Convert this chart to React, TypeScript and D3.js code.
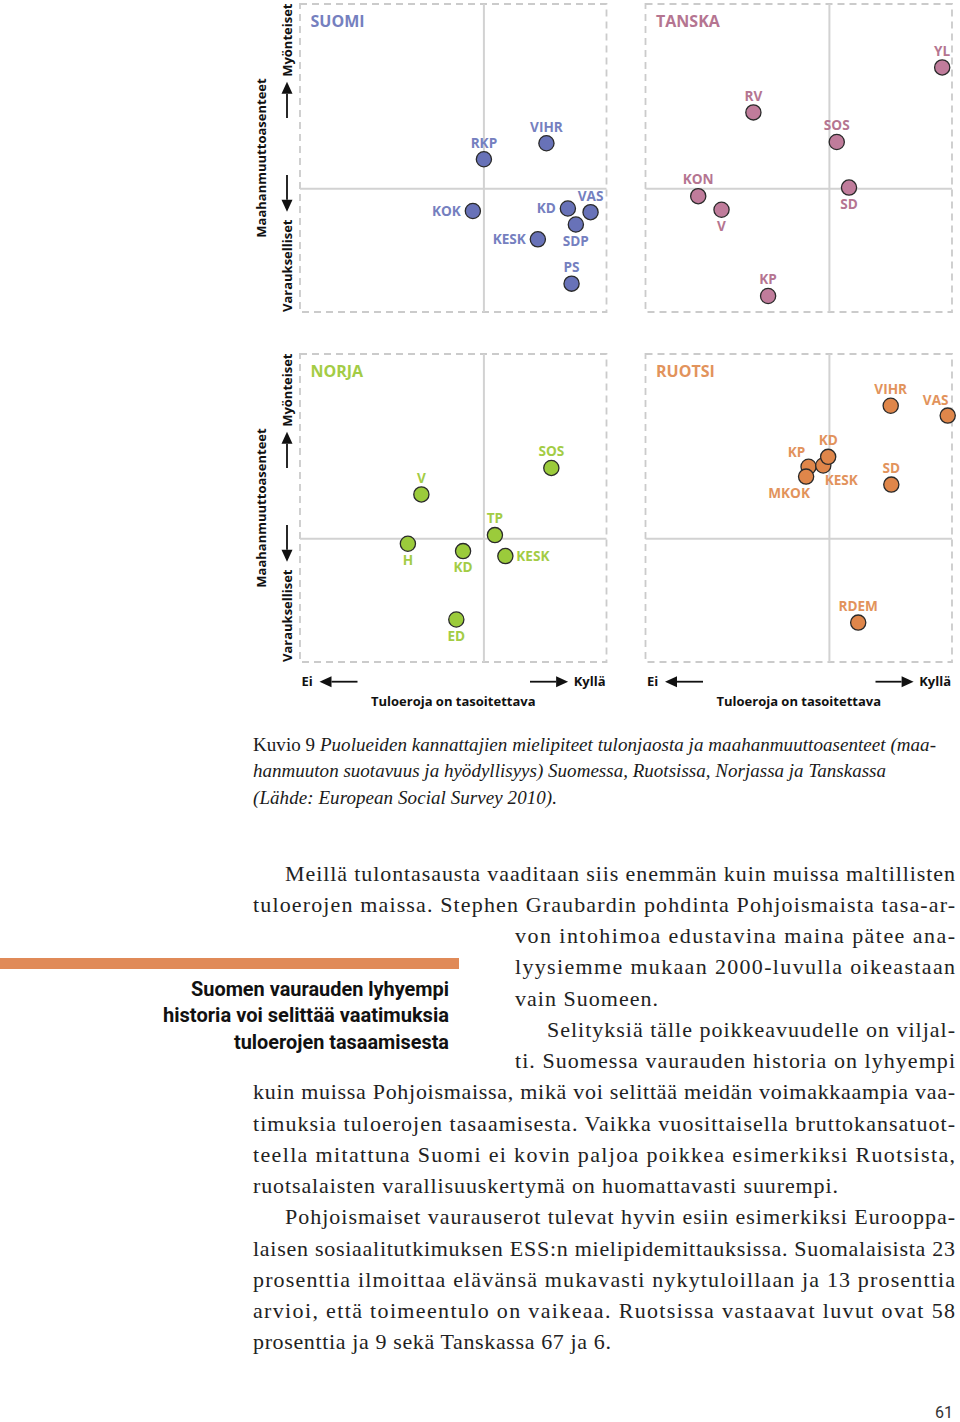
import React from 'react';
import * as d3 from 'd3';

// ---------------- data ----------------
// x: "Tuloeroja on tasoitettava" (Ei -> Kyllä), y: Maahanmuuttoasenteet (Varaukselliset -> Myönteiset)
const suomiParties = ['RKP', 'VIHR', 'KOK', 'KD', 'VAS', 'SDP', 'KESK', 'PS'];
const suomiIncome = [0.0, 1.02, -0.18, 1.37, 1.74, 1.5, 0.88, 1.43];
const suomiImmigration = [0.48, 0.74, -0.36, -0.32, -0.38, -0.58, -0.82, -1.54];
const suomiLabelSide = ['t', 't', 'l', 'l', 't', 'b', 'l', 't'];

const tanskaParties = ['YL', 'RV', 'SOS', 'KON', 'SD', 'V', 'KP'];
const tanskaIncome = [1.84, -1.24, 0.12, -2.14, 0.32, -1.76, -1.0];
const tanskaImmigration = [1.97, 1.24, 0.76, -0.12, 0.02, -0.34, -1.74];
const tanskaLabelSide = ['t', 't', 't', 't', 'b', 'b', 't'];

const norjaParties = ['SOS', 'V', 'TP', 'H', 'KD', 'KESK', 'ED'];
const norjaIncome = [1.1, -1.02, 0.18, -1.24, -0.34, 0.35, -0.45];
const norjaImmigration = [1.15, 0.72, 0.06, -0.08, -0.2, -0.28, -1.31];
const norjaLabelSide = ['t', 't', 't', 'b', 'b', 'r', 'b'];

const ruotsiParties = ['VIHR', 'VAS', 'KP', 'KESK', 'MKOK', 'KD', 'SD', 'RDEM'];
const ruotsiIncome = [1.0, 1.93, -0.34, -0.1, -0.38, -0.02, 1.01, 0.47];
const ruotsiImmigration = [2.16, 2.0, 1.17, 1.19, 1.01, 1.33, 0.88, -1.36];
const ruotsiLabelSide = ['t', 'tl', 'tl', 'br', 'bl', 't', 't', 't'];

const xDomain = [-3, 2];
const yDomain = [-2, 3];

const captionLines = [
  { lead: 'Kuvio 9  ', rest: 'Puolueiden kannattajien mielipiteet tulonjaosta ja maahanmuuttoasenteet (maa-' },
  { lead: '', rest: 'hanmuuton suotavuus ja hyödyllisyys) Suomessa, Ruotsissa, Norjassa ja Tanskassa' },
  { lead: '', rest: '(Lähde: European Social Survey 2010).' },
];
const captionEnd = [936, 886, 557];

const bodyLines = [
  'Meillä tulontasausta vaaditaan siis enemmän kuin muissa maltillisten',
  'tuloerojen maissa. Stephen Graubardin pohdinta Pohjoismaista tasa-ar-',
  'von intohimoa edustavina maina pätee ana-',
  'lyysiemme mukaan 2000-luvulla oikeastaan',
  'vain Suomeen.',
  'Selityksiä tälle poikkeavuudelle on viljal-',
  'ti. Suomessa vaurauden historia on lyhyempi',
  'kuin muissa Pohjoismaissa, mikä voi selittää meidän voimakkaampia vaa-',
  'timuksia tuloerojen tasaamisesta. Vaikka vuosittaisella bruttokansatuot-',
  'teella mitattuna Suomi ei kovin paljoa poikkea esimerkiksi Ruotsista,',
  'ruotsalaisten varallisuuskertymä on huomattavasti suurempi.',
  'Pohjoismaiset vaurauserot tulevat hyvin esiin esimerkiksi Eurooppa-',
  'laisen sosiaalitutkimuksen ESS:n mielipidemittauksissa. Suomalaisista 23',
  'prosenttia ilmoittaa elävänsä mukavasti nykytuloillaan ja 13 prosenttia',
  'arvioi, että toimeentulo on vaikeaa. Ruotsissa vastaavat luvut ovat 58',
  'prosenttia ja 9 sekä Tanskassa 67 ja 6.',
];
const bodyStart = [285, 253, 515, 515, 515, 547, 515, 253, 253, 253, 253, 285, 253, 253, 253, 253];
const bodyEnd = [955, 955, 955, 955, 658, 955, 955, 955, 955, 955, 838, 955, 955, 955, 955, 611];

const sidebarLines = ['Suomen vaurauden lyhyempi', 'historia voi selittää vaatimuksia', 'tuloerojen tasaamisesta'];
const sidebarStart = [191, 163, 234];

// ---------------- layout ----------------
const W = 306.5;
const H = 308;
const LABEL_FONT = "'Open Sans', 'DejaVu Sans', sans-serif";

type Panel = {
  name: string;
  parties: string[];
  xs: number[];
  ys: number[];
  side: string[];
  fill: string;
  text: string;
  left: number;
  top: number;
  yAxis: boolean;
  xAxis: boolean;
};

const panels: Panel[] = [
  { name: 'SUOMI', parties: suomiParties, xs: suomiIncome, ys: suomiImmigration, side: suomiLabelSide, fill: '#6872b8', text: '#7580bf', left: 300, top: 4, yAxis: true, xAxis: false },
  { name: 'TANSKA', parties: tanskaParties, xs: tanskaIncome, ys: tanskaImmigration, side: tanskaLabelSide, fill: '#c07c9b', text: '#b57591', left: 645.5, top: 4, yAxis: false, xAxis: false },
  { name: 'NORJA', parties: norjaParties, xs: norjaIncome, ys: norjaImmigration, side: norjaLabelSide, fill: '#9bcb3b', text: '#a3cc45', left: 300, top: 354, yAxis: true, xAxis: true },
  { name: 'RUOTSI', parties: ruotsiParties, xs: ruotsiIncome, ys: ruotsiImmigration, side: ruotsiLabelSide, fill: '#df864a', text: '#e2935c', left: 645.5, top: 354, yAxis: false, xAxis: true },
];

function labelPlacement(side: string, cx: number, cy: number) {
  const b = 4.8; // half cap height
  switch (side) {
    case 't': return { x: cx, y: cy - 16.5 + b, anchor: 'middle' };
    case 'b': return { x: cx, y: cy + 16.5 + b, anchor: 'middle' };
    case 'l': return { x: cx - 12, y: cy + b, anchor: 'end' };
    case 'r': return { x: cx + 11, y: cy + b, anchor: 'start' };
    case 'tl': return { x: cx - 12, y: cy - 15 + b, anchor: 'middle' };
    case 'bl': return { x: cx - 17, y: cy + 16.5 + b, anchor: 'middle' };
    case 'br': return { x: cx + 18, y: cy + 14.5 + b, anchor: 'middle' };
    default: return { x: cx, y: cy, anchor: 'middle' };
  }
}

function ArrowV({ x, y1, y2 }: { x: number; y1: number; y2: number }) {
  const dir = y2 > y1 ? 1 : -1;
  const headLen = 12;
  return (
    <g>
      <line x1={x} y1={y1} x2={x} y2={y2 - dir * headLen} stroke="#111" strokeWidth={1.8} />
      <path d={`M${x},${y2} L${x - 5.5},${y2 - dir * headLen} L${x + 5.5},${y2 - dir * headLen} Z`} fill="#111" />
    </g>
  );
}

function ArrowH({ y, x1, x2 }: { y: number; x1: number; x2: number }) {
  const dir = x2 > x1 ? 1 : -1;
  const headLen = 12;
  return (
    <g>
      <line x1={x1} y1={y} x2={x2 - dir * headLen} y2={y} stroke="#111" strokeWidth={1.8} />
      <path d={`M${x2},${y} L${x2 - dir * headLen},${y - 5.5} L${x2 - dir * headLen},${y + 5.5} Z`} fill="#111" />
    </g>
  );
}

function PanelView({ p }: { p: Panel }) {
  const x = d3.scaleLinear().domain(xDomain).range([p.left, p.left + W]);
  const y = d3.scaleLinear().domain(yDomain).range([p.top + H, p.top]);
  const right = p.left + W;
  const bottom = p.top + H;
  const axisText = { fontFamily: LABEL_FONT, fontWeight: 700, fontSize: 13, fill: '#111' } as const;
  return (
    <g>
      <rect x={p.left} y={p.top} width={W} height={H} fill="none" stroke="#cbcbcb" strokeWidth={1.8} strokeDasharray="7 5" />
      <line x1={p.left} x2={right} y1={y(0)} y2={y(0)} stroke="#d2d2d2" strokeWidth={2} />
      <line x1={x(0)} x2={x(0)} y1={p.top} y2={bottom} stroke="#d2d2d2" strokeWidth={2} />
      <text x={p.left + 10.5} y={p.top + 23} fontFamily={LABEL_FONT} fontWeight={700} fontSize={16} fill={p.text}>{p.name}</text>
      {p.parties.map((name, i) => (
        <circle key={'c' + name} cx={x(p.xs[i])} cy={y(p.ys[i])} r={7.6} fill={p.fill} stroke="#2a2a2a" strokeWidth={1.3} />
      ))}
      {p.parties.map((name, i) => {
        const pl = labelPlacement(p.side[i], x(p.xs[i]), y(p.ys[i]));
        return (
          <text key={'t' + name} x={pl.x} y={pl.y} textAnchor={pl.anchor as any} fontFamily={LABEL_FONT} fontWeight={700} fontSize={13.6} fill={p.text}>{name}</text>
        );
      })}
      {p.yAxis && (
        <g>
          <text transform={`translate(266,${(p.top + bottom) / 2}) rotate(-90)`} textAnchor="middle" {...axisText}>Maahanmuuttoasenteet</text>
          <text transform={`translate(291.5,${p.top - 0.5}) rotate(-90)`} textAnchor="end" {...axisText}>Myönteiset</text>
          <text transform={`translate(291.5,${bottom}) rotate(-90)`} textAnchor="start" {...axisText}>Varaukselliset</text>
          <ArrowV x={287} y1={p.top + 114} y2={p.top + 77.7} />
          <ArrowV x={287} y1={p.top + 171} y2={p.top + 207.7} />
        </g>
      )}
      {p.xAxis && (
        <g>
          <text x={p.left + 1.5} y={bottom + 24.3} {...axisText}>Ei</text>
          <ArrowH y={bottom + 19.7} x1={p.left + 57.5} x2={p.left + 19.5} />
          <ArrowH y={bottom + 19.7} x1={right - 76.5} x2={right - 38.4} />
          <text x={right - 1} y={bottom + 24.3} textAnchor="end" {...axisText}>Kyllä</text>
          <text x={(p.left + right) / 2} y={bottom + 44} textAnchor="middle" {...axisText}>Tuloeroja on tasoitettava</text>
        </g>
      )}
    </g>
  );
}

export default function App() {
  const serif = "'Liberation Serif', 'DejaVu Serif', serif";
  return (
    <svg width={960} height={1422} viewBox="0 0 960 1422" style={{ position: 'absolute', left: 0, top: 0, background: '#fff' }}>
      <rect x={0} y={0} width={960} height={1422} fill="#fff" />
      {panels.map((p) => (
        <PanelView key={p.name} p={p} />
      ))}

      {/* caption */}
      {captionLines.map((c, i) => (
        <text key={'cap' + i} x={253} y={750.5 + i * 26.5} fontFamily={serif} fontSize={19} fill="#1a1a1a" textLength={captionEnd[i] - 253} lengthAdjust="spacing">
          {c.lead && <tspan fontStyle="normal">{c.lead}</tspan>}
          <tspan fontStyle="italic">{c.rest}</tspan>
        </text>
      ))}

      {/* body text */}
      {bodyLines.map((line, i) => (
        <text key={'b' + i} x={bodyStart[i]} y={880.5 + i * 31.25} fontFamily={serif} fontSize={22} fill="#222" textLength={bodyEnd[i] - bodyStart[i]} lengthAdjust="spacing">
          {line}
        </text>
      ))}

      {/* sidebar */}
      <rect x={0} y={958} width={459} height={11} fill="#e08a58" />
      {sidebarLines.map((line, i) => (
        <text key={'s' + i} x={sidebarStart[i]} y={996 + i * 26.3} fontFamily="Roboto, 'Liberation Sans', sans-serif" fontWeight={700} fontSize={20} fill="#111" textLength={449 - sidebarStart[i]} lengthAdjust="spacingAndGlyphs">
          {line}
        </text>
      ))}

      {/* page number */}
      <text x={953} y={1418} textAnchor="end" fontFamily="Roboto, sans-serif" fontSize={16} fill="#333">61</text>
    </svg>
  );
}
